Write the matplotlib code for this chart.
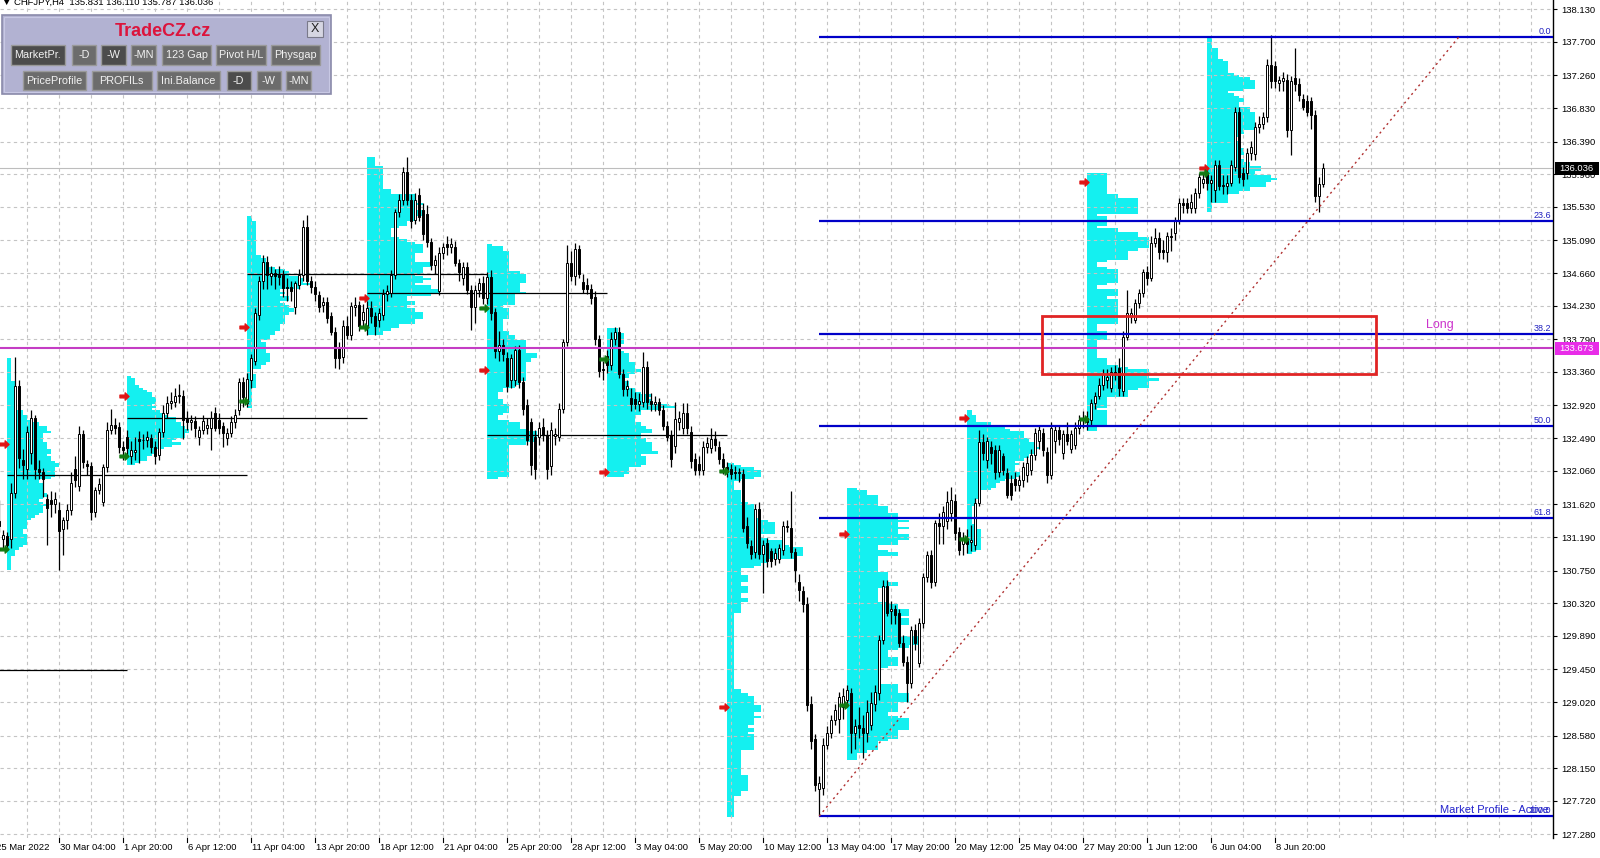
import numpy as np
import matplotlib
matplotlib.use("Agg")
import matplotlib.pyplot as plt
from matplotlib.patches import Rectangle
from matplotlib.path import Path
from matplotlib.transforms import blended_transform_factory

# ---------------- data (H4 CHFJPY bars, index 0 = 25 Mar 2022 12:00) ----------------
opens = [
131.55,131.40,131.16,131.20,131.16,131.77,133.17,132.20,132.09,132.30,
132.75,132.09,132.04,131.69,131.68,131.63,131.55,131.29,131.41,131.55,
132.09,131.86,132.54,132.15,132.12,131.52,131.81,131.65,132.11,132.60,
132.66,132.64,132.37,132.50,132.25,132.31,132.48,132.47,132.46,132.49,
132.38,132.27,132.57,132.82,132.95,132.97,133.04,133.04,132.74,132.70,
132.72,132.51,132.60,132.62,132.62,132.82,132.73,132.65,132.49,132.56,
132.70,132.86,133.23,132.95,133.25,133.51,134.11,134.55,134.81,134.62,
134.66,134.64,134.63,134.48,134.48,134.22,134.51,134.64,135.26,134.56,
134.48,134.37,134.24,134.28,134.09,133.89,133.67,133.56,133.96,133.85,
134.22,134.24,134.04,133.96,134.20,134.09,134.04,134.11,134.39,134.40,
134.64,135.47,135.62,135.99,135.62,135.36,135.69,135.49,135.44,135.07,
134.77,134.43,134.92,135.04,135.01,135.01,134.79,134.59,134.74,134.44,
134.22,134.44,134.53,134.33,134.61,134.15,133.63,133.72,133.54,133.25,
133.25,133.65,133.23,132.92,132.70,132.51,132.51,132.64,132.53,132.12,
132.52,132.51,132.88,133.76,134.79,134.62,134.98,134.54,134.50,134.45,
134.35,133.80,133.40,133.57,133.45,133.80,133.88,133.33,133.14,133.02,
133.00,132.94,132.96,133.43,132.98,132.94,132.96,132.86,132.65,132.53,
132.39,132.70,132.62,132.82,132.57,132.22,132.15,132.07,132.38,132.36,
132.48,132.38,132.22,132.11,132.08,132.05,132.03,132.02,131.34,131.07,
130.99,131.56,130.97,131.11,131.00,130.90,130.90,131.02,131.34,131.31,
130.99,130.60,130.48,130.31,129.00,128.53,127.88,127.89,128.45,128.61,
128.78,128.80,128.95,129.05,129.14,128.61,128.72,128.68,128.61,128.72,
129.00,129.14,129.84,130.55,130.22,130.24,130.19,129.80,129.55,129.27,
129.97,129.54,130.06,130.66,130.95,130.60,131.37,131.33,131.40,131.50,
131.66,131.26,131.10,131.17,131.12,131.08,131.64,132.44,132.20,132.38,
132.33,132.04,132.25,132.03,131.90,131.95,131.88,131.94,132.00,132.07,
132.27,132.45,132.56,132.31,132.00,132.45,132.60,132.30,132.55,132.35,
132.40,132.62,132.73,132.76,132.73,132.95,133.05,133.19,133.25,133.15,
133.36,133.41,133.11,133.82,134.10,134.05,134.27,134.40,134.67,134.60,
135.06,135.12,134.96,134.94,135.15,135.19,135.36,135.58,135.58,135.52,
135.52,135.72,135.85,135.98,135.85,135.75,136.08,135.82,135.80,135.85,
136.06,136.78,135.98,135.97,136.24,136.22,136.58,136.62,136.71,137.40,
137.38,137.16,137.18,137.20,136.54,137.22,137.15,136.95,136.92,136.92,
136.74,135.68,135.831]

highs = [
131.70,131.68,131.28,131.25,131.90,133.56,133.25,132.35,132.65,132.86,
132.80,132.20,132.10,131.75,131.80,131.78,131.65,131.45,131.62,132.05,
132.25,132.65,132.60,132.20,132.18,131.85,131.96,132.15,132.70,132.87,
132.75,132.70,132.45,132.60,132.45,132.50,132.58,132.55,132.58,132.55,
132.45,132.62,132.93,133.05,133.10,133.15,133.20,133.12,132.85,132.80,
132.78,132.65,132.80,132.75,132.85,132.90,132.82,132.70,132.62,132.78,
132.88,133.28,133.30,133.35,133.60,134.20,134.62,134.90,134.88,134.75,
134.72,134.75,134.70,134.60,134.55,134.55,134.72,135.36,135.42,134.62,
134.55,134.42,134.35,134.35,134.15,133.95,133.75,134.05,134.10,134.28,
134.35,134.30,134.25,134.30,134.30,134.15,134.20,134.45,134.50,134.70,
135.50,135.70,136.06,136.19,135.70,135.72,135.78,135.58,135.55,135.12,
134.90,135.00,135.05,135.15,135.12,135.08,134.85,134.80,134.80,134.50,
134.50,134.60,134.62,134.68,134.70,134.20,133.90,133.80,133.62,133.60,
133.70,133.72,133.30,133.00,132.75,132.60,132.70,132.75,132.60,132.70,
132.62,132.95,133.80,135.03,134.95,135.05,135.03,134.65,134.60,134.52,
134.42,133.85,133.50,133.65,133.88,133.95,133.95,133.40,133.25,133.15,
133.10,133.08,133.62,133.50,133.08,133.05,133.02,132.92,132.72,132.60,
132.96,132.85,132.95,132.95,132.65,132.30,132.25,132.45,132.50,132.62,
132.58,132.45,132.30,132.18,132.15,132.12,132.10,132.08,131.45,131.15,
131.62,131.65,131.15,131.18,131.05,131.05,131.10,131.40,131.42,131.80,
131.05,130.70,130.55,130.40,129.10,128.60,128.05,128.55,128.70,128.85,
129.00,129.15,129.20,129.25,129.20,128.80,128.95,128.85,129.05,129.15,
129.25,129.90,130.62,130.62,130.35,130.30,130.25,129.90,129.62,130.02,
130.05,130.12,130.72,131.00,131.02,131.42,131.50,131.60,131.80,131.85,
131.75,131.32,131.25,131.30,131.35,131.70,132.60,132.55,132.50,132.45,
132.40,132.40,132.30,132.10,132.00,132.05,132.00,132.18,132.25,132.35,
132.62,132.65,132.62,132.38,132.70,132.65,132.65,132.60,132.70,132.60,
132.70,132.80,132.85,132.85,133.00,133.10,133.28,133.40,133.40,133.42,
133.45,133.55,133.90,134.44,134.20,134.32,134.45,134.72,134.75,135.15,
135.25,135.20,135.10,135.20,135.25,135.40,135.65,135.65,135.65,135.70,
135.78,135.98,135.98,136.05,135.95,136.15,136.15,135.95,135.95,136.15,
136.85,136.85,136.05,136.30,136.40,136.65,136.72,136.78,137.48,137.79,
137.45,137.25,137.30,137.28,137.25,137.62,137.22,137.02,137.00,136.98,
136.80,135.92,136.110]

lows = [
131.30,131.25,131.04,131.02,131.05,131.70,132.10,131.95,131.95,132.15,
131.95,131.95,131.72,131.08,131.45,131.50,130.76,130.95,131.30,131.48,
131.85,131.80,132.10,132.00,131.41,131.45,131.75,131.60,132.05,132.55,
132.55,132.30,132.20,132.25,132.15,132.20,132.16,132.35,132.38,132.30,
132.15,132.20,132.50,132.75,132.88,132.90,132.95,132.48,132.60,132.60,
132.50,132.40,132.55,132.55,132.34,132.58,132.55,132.38,132.40,132.50,
132.62,132.80,132.90,132.90,133.15,133.45,134.05,134.45,134.45,134.50,
134.45,134.50,134.35,134.30,134.30,134.12,134.45,134.55,134.50,134.40,
134.30,134.15,134.15,134.00,133.85,133.41,133.40,133.48,133.80,133.78,
134.10,133.90,133.95,133.85,134.00,133.85,133.95,134.05,134.30,134.35,
134.58,135.40,135.55,135.55,135.25,135.30,135.35,135.10,135.00,134.70,
134.65,134.37,134.85,134.90,134.92,134.75,134.55,134.50,134.38,133.91,
134.00,134.35,134.25,134.25,134.05,133.55,133.50,133.50,133.10,133.15,
133.18,133.15,132.80,132.40,132.00,131.95,132.40,132.45,131.95,132.00,
132.40,132.45,132.82,133.70,134.55,134.50,134.60,134.40,134.38,134.25,
133.72,133.30,133.25,133.35,133.38,133.72,133.28,133.05,133.05,132.85,
132.88,132.85,132.90,132.88,132.85,132.85,132.80,132.60,132.45,132.11,
132.30,132.60,132.55,132.55,132.10,132.00,132.00,132.00,132.30,132.30,
132.32,132.15,132.02,131.98,131.95,131.95,131.92,131.25,131.05,130.90,
130.92,130.90,130.45,130.80,130.80,130.82,130.85,130.95,131.25,130.92,
130.60,130.35,130.20,128.90,128.40,127.85,127.52,127.80,128.40,128.55,
128.72,128.62,128.80,128.95,128.35,128.40,128.55,128.28,128.50,128.65,
128.90,129.05,129.78,130.15,130.05,130.05,129.75,129.50,129.02,129.20,
129.70,129.48,130.00,130.60,130.52,130.55,131.10,131.10,131.30,131.40,
131.15,130.95,130.95,130.98,131.00,131.02,131.60,132.20,132.10,132.15,
131.95,131.98,132.00,131.70,131.68,131.80,131.80,131.85,131.92,132.00,
132.20,132.35,132.25,131.90,131.95,132.30,132.40,132.22,132.40,132.30,
132.35,132.55,132.62,132.60,132.65,132.88,133.00,133.12,133.15,133.10,
133.25,133.05,133.05,133.78,134.00,134.00,134.20,134.35,134.50,134.55,
135.00,134.85,134.85,134.80,134.95,135.10,135.30,135.45,135.45,135.45,
135.45,135.65,135.78,135.75,135.60,135.60,135.75,135.70,135.70,135.80,
136.00,135.85,135.80,135.90,136.15,136.15,136.50,136.55,136.65,137.10,
137.10,137.05,137.05,136.45,136.21,137.05,136.92,136.80,136.72,136.55,
135.60,135.46,135.787]

closes = [
131.40,131.33,131.22,131.08,131.77,133.17,132.23,132.14,132.57,132.75,
132.09,132.05,131.95,131.57,131.63,131.69,131.27,131.41,131.55,131.90,
131.94,132.54,132.18,132.12,131.52,131.81,131.89,132.11,132.60,132.66,
132.62,132.37,132.34,132.36,132.33,132.34,132.45,132.46,132.50,132.38,
132.25,132.57,132.82,132.95,132.98,133.04,133.06,132.73,132.70,132.73,
132.62,132.60,132.71,132.66,132.75,132.63,132.62,132.56,132.56,132.70,
132.79,133.23,133.03,133.27,133.54,134.13,134.55,134.81,134.64,134.66,
134.62,134.61,134.46,134.46,134.42,134.53,134.64,135.26,134.56,134.48,
134.39,134.22,134.28,134.07,133.89,133.54,133.54,133.96,133.85,134.23,
134.24,133.96,134.15,134.20,134.09,133.96,134.13,134.39,134.42,134.64,
135.47,135.62,135.99,135.62,135.34,135.62,135.40,135.18,135.07,134.77,
134.83,134.92,135.01,135.01,135.04,134.79,134.68,134.74,134.44,134.22,
134.44,134.53,134.33,134.61,134.13,133.63,133.72,133.60,133.17,133.54,
133.65,133.23,132.88,132.47,132.14,132.09,132.62,132.53,132.09,132.60,
132.55,132.88,133.76,134.79,134.62,134.98,134.65,134.45,134.45,134.33,
133.80,133.37,133.38,133.45,133.80,133.88,133.33,133.14,133.17,132.94,
132.94,132.98,133.43,132.96,132.94,132.96,132.86,132.65,132.51,132.22,
132.74,132.75,132.82,132.63,132.19,132.07,132.07,132.38,132.42,132.48,
132.40,132.22,132.11,132.05,132.02,132.03,132.03,131.31,131.11,130.97,
131.56,130.97,131.08,130.87,130.87,130.98,131.05,131.34,131.32,130.99,
130.76,130.50,130.31,128.98,128.51,127.93,127.95,128.45,128.61,128.78,
128.91,129.09,129.10,129.18,128.61,128.70,128.68,128.61,128.89,129.01,
129.15,129.84,130.55,130.19,130.24,130.17,129.80,129.55,129.27,129.97,
129.80,130.06,130.66,130.95,130.60,131.37,131.33,131.52,131.65,131.68,
131.24,131.02,131.17,131.10,131.15,131.64,132.44,132.30,132.45,132.30,
132.04,132.33,132.07,131.74,131.74,131.88,131.94,132.11,132.17,132.27,
132.56,132.60,132.33,132.00,132.62,132.60,132.48,132.55,132.45,132.55,
132.62,132.73,132.75,132.70,132.95,133.05,133.19,133.34,133.30,133.36,
133.33,133.15,133.82,134.13,134.13,134.27,134.40,134.67,134.60,135.06,
135.12,134.94,134.94,135.15,135.13,135.36,135.58,135.55,135.52,135.60,
135.72,135.92,135.90,135.85,135.88,136.08,135.80,135.80,135.85,136.08,
136.78,135.93,135.90,136.24,136.32,136.58,136.62,136.71,137.40,137.18,
137.18,137.20,137.22,136.54,137.18,137.15,137.00,136.85,136.78,136.74,
135.68,135.83,136.036]

date_labels = ["25 Mar 2022", "30 Mar 04:00", "1 Apr 20:00", "6 Apr 12:00", "11 Apr 04:00",
               "13 Apr 20:00", "18 Apr 12:00", "21 Apr 04:00", "25 Apr 20:00", "28 Apr 12:00",
               "3 May 04:00", "5 May 20:00", "10 May 12:00", "13 May 04:00", "17 May 20:00",
               "20 May 12:00", "25 May 04:00", "27 May 20:00", "1 Jun 12:00", "6 Jun 04:00",
               "8 Jun 20:00"]
price_ticks = [138.130, 137.700, 137.260, 136.830, 136.390, 135.960, 135.530, 135.090,
               134.660, 134.230, 133.790, 133.360, 132.920, 132.490, 132.060, 131.620,
               131.190, 130.750, 130.320, 129.890, 129.450, 129.020, 128.580, 128.150,
               127.720, 127.280]

# weekly market profiles
week_starts = [3, 33, 63, 93, 123, 153, 183, 213, 243, 273, 303]
profile_max_bars = [13, 15.5, 16.5, 18, 12.5, 17, 19, 18, 18, 18, 17.5]
# POC lines (price, first bar, last bar)
poc_prices = [129.44, 132.01, 132.75, 134.65, 134.40, 132.53]
poc_from = [-3, 3, 33, 63, 93, 123]
poc_to = [33, 63, 93, 123, 153, 183]
red_arrow_prices = [132.41, 133.04, 133.95, 134.33, 133.38, 132.04, 128.95, 131.23, 132.76, 135.86, 136.04]
green_arrow_prices = [131.03, 132.26, 132.98, 133.95, 134.20, 133.53, 132.06, 128.98, 131.16, 132.74, 135.98]

# Fibonacci retracement
fib_levels = [0.0, 23.6, 38.2, 50.0, 61.8, 100.0]
fib_high = 137.77
fib_low = 127.52
fib_start_bar = 206
trend_bars = [206, 366]
trend_prices = [127.52, 137.77]

magenta_level = 133.673
last_price = 136.036
box_bars = [261.7, 345.3]
box_prices = [133.33, 134.09]

# ---------------- figure ----------------
plt.rcParams['font.family'] = ['Liberation Sans', 'DejaVu Sans']
W, H = 1600, 858
fig = plt.figure(figsize=(W / 100, H / 100), dpi=100)
fig.patch.set_facecolor('white')
ax = fig.add_axes([0, 20 / H, 1553 / W, 838 / H])
XMIN, XMAX = 1.2, 389.45
ax.set_xlim(XMIN, XMAX)
ax.set_ylim(127.233, 138.251)
ax.set_facecolor('white')

O = np.array(opens); Hh = np.array(highs); L = np.array(lows); C = np.array(closes)
n = len(C)
ks = np.arange(n)

grid_kw = dict(color='#C4C4C4', lw=0.8, ls=(0, (3, 3)), zorder=1.5)
for p in price_ticks:
    ax.axhline(p, **grid_kw)
for kx in range(0, 392, 8):
    ax.axvline(kx, **grid_kw)

# profiles
bin_size = 0.03
cyan = '#14F0F0'
for ws, mw in zip(week_starts, profile_max_bars):
    we = min(ws + 30, n)
    lo = L[ws:we].min(); hi = Hh[ws:we].max()
    levels = np.arange(np.floor(lo / bin_size) * bin_size, hi + bin_size, bin_size)
    cnt = np.array([np.sum((L[ws:we] <= lv) & (Hh[ws:we] >= lv)) for lv in levels])
    keep = cnt > 0
    ax.barh(levels[keep], cnt[keep] / cnt.max() * mw, left=ws - 0.1, height=bin_size,
            color=cyan, linewidth=0, antialiased=False, zorder=1)

# POC lines
ax.hlines(poc_prices, poc_from, poc_to, color='black', lw=0.9, zorder=2.5)

# current price line
ax.axhline(last_price, color='#BDBDBD', lw=0.8, zorder=2)

# candles
up = C >= O
ax.vlines(ks, L, Hh, color='black', lw=0.9, zorder=3)
body_lo = np.minimum(O, C)
body_h = np.maximum(np.abs(C - O), 0.012)
ax.bar(ks[up], body_h[up], bottom=body_lo[up], width=0.62, color='white',
       edgecolor='black', linewidth=0.7, zorder=4)
ax.bar(ks[~up], body_h[~up], bottom=body_lo[~up], width=0.62, color='black',
       edgecolor='black', linewidth=0.7, zorder=4)

# arrows
arrow = Path([(-1, -0.3), (0.15, -0.3), (0.15, -0.8), (1, 0), (0.15, 0.8), (0.15, 0.3), (-1, 0.3), (-1, -0.3)],
             [Path.MOVETO] + [Path.LINETO] * 6 + [Path.CLOSEPOLY])
arrow_x = [ws - 0.8 for ws in week_starts]
ax.plot(arrow_x, red_arrow_prices, ls='none', marker=arrow, ms=6.5, color='#E01515', mec='#E01515', zorder=6)
ax.plot(arrow_x, green_arrow_prices, ls='none', marker=arrow, ms=6.5, color='#127A12', mec='#127A12', zorder=6)

# fibonacci
fib_prices = [fib_high - lv / 100 * (fib_high - fib_low) for lv in fib_levels]
ax.hlines(fib_prices, fib_start_bar, XMAX, color='#0000C8', lw=1.6, zorder=5)
ax.plot(trend_bars, trend_prices, color='#B03030', lw=1.0, ls=(0, (1.5, 2.5)), zorder=5)
ax.text(388.3, 127.60, 'Market Profile - Active', ha='right', va='center', fontsize=8,
        color='#2222CC', zorder=7)
for lv, fp in zip(fib_levels, fib_prices):
    ax.annotate(f"{lv:.1f}", xy=(388.95, fp), xytext=(0, 1), textcoords='offset pixels',
                ha='right', va='bottom', fontsize=6.5, color='#2020C0', zorder=7)

# magenta level, box, label
ax.axhline(magenta_level, color='#C43CC4', lw=1.5, zorder=5.5)
ax.add_patch(Rectangle((box_bars[0], box_prices[0]), box_bars[1] - box_bars[0],
                       box_prices[1] - box_prices[0], fill=False, edgecolor='#E02424', lw=2, zorder=6))
ax.text(357.6, 133.98, 'Long', color='#CC33CC', fontsize=9, ha='left', va='center', zorder=7)

# axes styling
for s in ['left', 'top', 'bottom']:
    ax.spines[s].set_visible(False)
ax.spines['right'].set_linewidth(1.0)
ax.yaxis.tick_right()
ax.set_yticks(price_ticks)
ax.set_yticklabels([f"{p:.3f}" for p in price_ticks])
ax.tick_params(axis='y', length=3, width=0.8, pad=3, labelsize=6.8, colors='black')
ax.set_xticks([])

bt = blended_transform_factory(ax.transAxes, ax.transData)
pxh = (138.251 - 127.233) / 838
for val, fc in [(last_price, 'black'), (magenta_level, '#E82CE8')]:
    ax.add_patch(Rectangle((1 + 2 / 1553, val - 6.5 * pxh), 44 / 1553, 13 * pxh, transform=bt,
                           facecolor=fc, edgecolor='none', clip_on=False, zorder=20))
    ax.text(1 + 6 / 1553, val, f"{val:.3f}", transform=bt, color='white', fontsize=6.8,
            ha='left', va='center', clip_on=False, zorder=21)

xt = blended_transform_factory(ax.transData, ax.transAxes)
for i, lab in enumerate(date_labels):
    kx = 16 * i
    ax.annotate(lab, xy=(kx, 0), xycoords=xt, xytext=(0.5, -9), textcoords='offset pixels',
                ha='left', va='center', fontsize=6.8, annotation_clip=False)
    ax.plot([kx, kx], [0, -4 / 838], transform=xt, color='black', lw=0.8, clip_on=False)

# ---------------- overlay (header + panel) ----------------
ov = fig.add_axes([0, 0, 1, 1], zorder=10)
ov.set_xlim(0, W); ov.set_ylim(H, 0); ov.axis('off'); ov.patch.set_alpha(0)
ov.text(2, 5, "\u25BC CHFJPY,H4  135.831 136.110 135.787 136.036", fontsize=6.8, va='baseline', ha='left')

ov.add_patch(Rectangle((2, 15), 329, 79, facecolor='#B2B2D2', edgecolor='#8A8AAA', lw=1.2))
ov.add_patch(Rectangle((4, 17), 325, 75, facecolor='none', edgecolor='#C8C8E4', lw=0.8))
ov.text(163, 32, 'TradeCZ.cz', fontsize=13, fontweight='bold', color='#DC143C', ha='center', va='center')
ov.add_patch(Rectangle((307, 21), 16, 16, facecolor='#D6D6E2', edgecolor='#7A7A8A', lw=0.8))
ov.text(315, 29.5, 'X', fontsize=9, color='#202020', ha='center', va='center')

row1 = [('MarketPr.', 10.7, 65, True), ('-D', 71.7, 96, False), ('-W', 101, 126, True),
        ('-MN', 130.7, 156, False), ('123 Gap', 162, 211, False), ('Pivot H/L', 216, 266, False),
        ('Physgap', 271, 320, False)]
row2 = [('PriceProfile', 22.7, 86, False), ('PROFILs', 91.7, 151.7, False),
        ('Ini.Balance', 156.7, 220, False), ('-D', 226.7, 250.7, True), ('-W', 256.7, 280.7, False),
        ('-MN', 286, 310.7, False)]
for row, y0, y1 in [(row1, 45, 65), (row2, 70.7, 90)]:
    for lab, x0, x1, dark in row:
        ov.add_patch(Rectangle((x0, y0), x1 - x0, y1 - y0,
                               facecolor='#4C4C4C' if dark else '#6C6C6C',
                               edgecolor='#9A9A9A', lw=1.0))
        ov.text((x0 + x1) / 2, (y0 + y1) / 2 + 0.5, lab, fontsize=7.8, color='#F2F2F2',
                ha='center', va='center')

fig.savefig('out.png', dpi=100, facecolor='white')
